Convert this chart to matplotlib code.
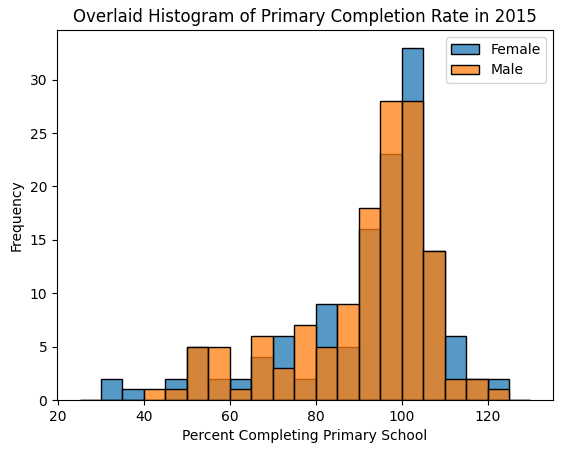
import numpy as np
import matplotlib
matplotlib.use("Agg")
import matplotlib.pyplot as plt
from matplotlib.colors import to_rgba

bin_edges = list(range(25, 135, 5))  # 25..130
female_counts = [0, 2, 1, 0, 2, 5, 2, 2, 4, 6, 2, 9, 5, 16, 23, 33, 14, 6, 2, 2, 0]
male_counts   = [0, 0, 0, 1, 1, 5, 5, 1, 6, 3, 7, 5, 9, 18, 28, 28, 14, 2, 2, 1, 0]
labels = ["Female", "Male"]

centers = [(a + b) / 2 for a, b in zip(bin_edges[:-1], bin_edges[1:])]

fig = plt.figure(figsize=(5.63, 4.53), dpi=100)
ax = fig.add_axes([57/563, 53/453, 496/563, 370/453])

for counts, lab, col in zip([female_counts, male_counts], labels, ["#1f77b4", "#ff7f0e"]):
    ax.hist(centers, bins=bin_edges, weights=counts, label=lab,
            facecolor=to_rgba(col, 0.75), edgecolor="black", linewidth=1.0)

ax.set_xlim(19.75, 135.25)
ax.set_ylim(0, 34.65)
ax.set_yticks([0, 5, 10, 15, 20, 25, 30])
ax.set_xticks([20, 40, 60, 80, 100, 120])
ax.set_title("Overlaid Histogram of Primary Completion Rate in 2015")
ax.set_xlabel("Percent Completing Primary School")
ax.set_ylabel("Frequency")
ax.legend(loc="upper right")

fig.savefig("out.png", dpi=100)
